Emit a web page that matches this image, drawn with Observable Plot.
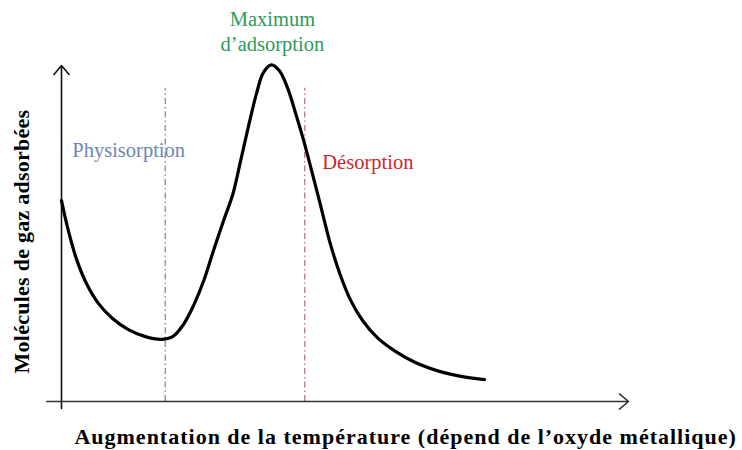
<!DOCTYPE html>
<html>
<head>
<meta charset="utf-8">
<script src="https://cdn.jsdelivr.net/npm/d3@7"></script>
<script src="https://cdn.jsdelivr.net/npm/@observablehq/plot@0.6"></script>
<style>
  html, body { margin: 0; padding: 0; background: #fff; }
</style>
</head>
<body>
<div id="chart"></div>
<script>
// Schematic curve: temperature (arbitrary units) vs adsorbed gas molecules (arbitrary units)
const temperature = [0, 0.12, 0.26, 0.44, 0.65, 0.90, 1.18, 1.48, 1.75, 1.96, 2.15, 2.33, 2.51, 2.68, 2.86, 3.02, 3.16, 3.30, 3.44, 3.56, 3.70, 3.84, 3.99, 4.13, 4.27, 4.41, 4.57, 4.74, 4.92, 5.10, 5.31, 5.57, 5.89, 6.24, 6.68, 7.07, 7.46];
const molecules   = [5.98, 5.09, 4.26, 3.51, 2.92, 2.47, 2.14, 1.93, 1.85, 1.93, 2.29, 2.86, 3.60, 4.49, 5.39, 6.16, 7.17, 8.21, 9.17, 9.79, 10.02, 9.85, 9.32, 8.57, 7.77, 6.88, 5.83, 4.70, 3.75, 3.01, 2.41, 1.90, 1.49, 1.16, 0.89, 0.74, 0.65];

// Region boundaries (temperature) and their top
const boundaries = [1.83, 4.29];
const boundaryTop = 9.32;

// Region labels
const regionNames = ["Physisorption", "Maximum\nd\u2019adsorption", "D\u00e9sorption"];
const regionX = [0.19, 3.72, 4.60];
const regionY = [7.47, 11.03, 7.11];

// Axis titles
const xTitle = "Augmentation de la temp\u00e9rature (d\u00e9pend de l\u2019oxyde m\u00e9tallique)";
const yTitle = "Mol\u00e9cules de gaz adsorb\u00e9es";

const curve = temperature.map((t, i) => ({t, m: molecules[i]}));

const chart = Plot.plot({
  width: 742,
  height: 450,
  marginLeft: 61,
  marginRight: 114,
  marginTop: 65,
  marginBottom: 49,
  x: {domain: [0, 10], axis: null},
  y: {domain: [0, 10], axis: null},
  style: {fontFamily: "'Liberation Serif', 'Times New Roman', serif", background: "#fff", overflow: "visible"},
  marks: [
    // dashed boundaries
    Plot.ruleX(boundaries, {x: d => d, y1: 0, y2: boundaryTop, stroke: "#b8768c", strokeWidth: 1.3, strokeDasharray: "6,3,1.5,3"}),
    // axes with arrows
    Plot.arrow([{x1: -0.26, y1: 0, x2: 10, y2: 0}], {x1: "x1", y1: "y1", x2: "x2", y2: "y2", stroke: "#333", strokeWidth: 1.6, headLength: 11, headAngle: 80}),
    Plot.arrow([{x1: 0, y1: -0.21, x2: 0, y2: 10}], {x1: "x1", y1: "y1", x2: "x2", y2: "y2", stroke: "#111", strokeWidth: 1.6, headLength: 11, headAngle: 80}),
    // the curve
    Plot.line(curve, {x: "t", y: "m", curve: "catmull-rom", stroke: "#000", strokeWidth: 3.2}),
    // region labels
    Plot.text([0], {x: () => regionX[0], y: () => regionY[0], text: () => regionNames[0], textAnchor: "start", fill: "#6a86b6", fontSize: 20.5}),
    Plot.text([1], {x: () => regionX[1], y: () => regionY[1], text: () => regionNames[1], textAnchor: "middle", fill: "#2e9a5c", fontSize: 20.5, lineHeight: 1.22}),
    Plot.text([2], {x: () => regionX[2], y: () => regionY[2], text: () => regionNames[2], textAnchor: "start", fill: "#d1262c", fontSize: 20.5}),
    // axis titles
    Plot.text([xTitle], {x: () => 6.07, y: () => -1.07, text: d => d, fontWeight: "bold", fontSize: 22, fill: "#000"}),
    Plot.text([yTitle], {x: () => -0.69, y: () => 4.76, text: d => d, fontWeight: "bold", fontSize: 22, rotate: -90, fill: "#000"})
  ]
});
d3.select(chart).selectAll("text").each(function() {
  const t = this.textContent;
  if (t === xTitle) this.style.letterSpacing = "1px";
  else if (t === yTitle) this.style.letterSpacing = "0.25px";
});
document.getElementById("chart").appendChild(chart);
</script>
</body>
</html>
